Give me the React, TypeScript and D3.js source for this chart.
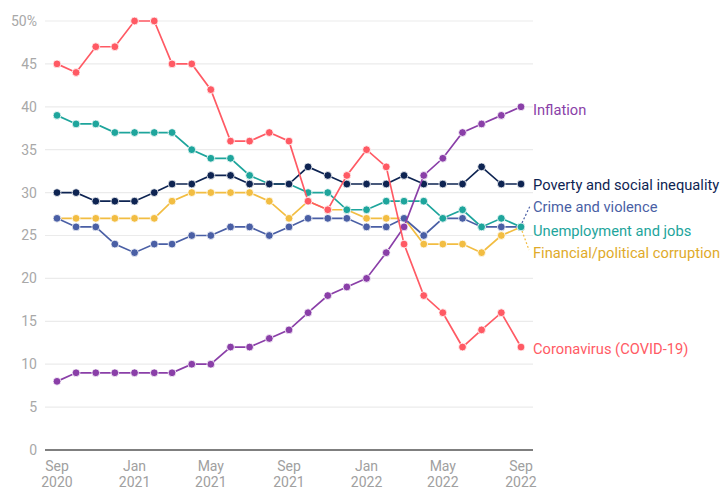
import React from 'react';
import * as d3 from 'd3';

const months = d3.range(25).map((i) => new Date(2020, 8 + i, 1));

const coronavirus = [45, 44, 47, 47, 50, 50, 45, 45, 42, 36, 36, 37, 36, 29, 28, 32, 35, 33, 24, 18, 16, 12, 14, 16, 12];
const inflation = [8, 9, 9, 9, 9, 9, 9, 10, 10, 12, 12, 13, 14, 16, 18, 19, 20, 23, 26, 32, 34, 37, 38, 39, 40];
const poverty = [30, 30, 29, 29, 29, 30, 31, 31, 32, 32, 31, 31, 31, 33, 32, 31, 31, 31, 32, 31, 31, 31, 33, 31, 31];
const unemployment = [39, 38, 38, 37, 37, 37, 37, 35, 34, 34, 32, 31, 31, 30, 30, 28, 28, 29, 29, 29, 27, 28, 26, 27, 26];
const crime = [27, 26, 26, 24, 23, 24, 24, 25, 25, 26, 26, 25, 26, 27, 27, 27, 26, 26, 27, 25, 27, 27, 26, 26, 26];
const corruption = [27, 27, 27, 27, 27, 27, 29, 30, 30, 30, 30, 29, 27, 29, 28, 28, 27, 27, 27, 24, 24, 24, 23, 25, 26];

const yTicks = [0, 5, 10, 15, 20, 25, 30, 35, 40, 45, 50];
const xTickIdx = [0, 4, 8, 12, 16, 20, 24];
const xTickMonth = ['Sep', 'Jan', 'May', 'Sep', 'Jan', 'May', 'Sep'];
const xTickYear = ['2020', '2021', '2021', '2021', '2022', '2022', '2022'];

const series = [
  { name: 'Financial/political corruption', values: corruption, color: '#f2bd42', labelColor: '#e0aa2a', labelY: 253 },
  { name: 'Crime and violence', values: crime, color: '#4a5fa5', labelColor: '#4a5fa5', labelY: 207 },
  { name: 'Unemployment and jobs', values: unemployment, color: '#1ea59c', labelColor: '#1ea59c', labelY: 231 },
  { name: 'Poverty and social inequality', values: poverty, color: '#0e2452', labelColor: '#0e2452', labelY: 185 },
  { name: 'Inflation', values: inflation, color: '#8a3fa8', labelColor: '#8a3fa8', labelY: 110 },
  { name: 'Coronavirus (COVID-19)', values: coronavirus, color: '#ff5a64', labelColor: '#ff5a64', labelY: 349 },
];

export default function App() {
  const width = 722;
  const height = 489;
  const x = d3.scaleTime().domain([months[0], months[24]]).range([57, 521]);
  const y = d3.scaleLinear().domain([0, 50]).range([450, 21]);
  const line = d3.line<number>().x((d, i) => x(months[i])).y((d) => y(d));
  const font = 'Roboto, "Noto Sans", sans-serif';
  const lastX = x(months[24]);

  return (
    <svg width={width} height={height} style={{ position: 'absolute', left: 0, top: 0, background: '#fff' }}>
      {yTicks.map((t) => (
        <g key={t}>
          {t > 0 && <line x1={45} x2={533} y1={y(t)} y2={y(t)} stroke="#ebebeb" strokeWidth={1.2} />}
          <text x={37} y={y(t)} dy="0.35em" textAnchor="end" fontFamily={font} fontSize={14} fill="#a8a8a8">
            {t === 50 ? '50%' : t}
          </text>
        </g>
      ))}
      <line x1={45} x2={533} y1={y(0)} y2={y(0)} stroke="#555" strokeWidth={1.5} />
      {xTickIdx.map((idx, k) => (
        <text key={idx} x={x(months[idx])} y={471} textAnchor="middle" fontFamily={font} fontSize={14} fill="#a0a0a0">
          <tspan x={x(months[idx])}>{xTickMonth[k]}</tspan>
          <tspan x={x(months[idx])} dy={16}>{xTickYear[k]}</tspan>
        </text>
      ))}
      {series.map((s) => (
        <g key={s.name}>
          <path d={line(s.values) ?? ''} fill="none" stroke={s.color} strokeWidth={1.7} />
          {s.values.map((v, i) => (
            <circle key={i} cx={x(months[i])} cy={y(v)} r={3.9} fill={s.color} stroke="#fff" strokeWidth={0.8} />
          ))}
        </g>
      ))}
      <line x1={lastX + 1} y1={y(crime[24]) - 4} x2={lastX + 9} y2={206} stroke="#4a5fa5" strokeWidth={1.2} strokeDasharray="2,2" />
      <line x1={lastX + 1} y1={y(corruption[24]) + 4} x2={lastX + 8} y2={250} stroke="#f2bd42" strokeWidth={1.2} strokeDasharray="2,2" />
      {series.map((s) => (
        <text key={s.name} x={533} y={s.labelY} dy="0.35em" fontFamily={font} fontSize={14.7} fill={s.labelColor}>
          {s.name}
        </text>
      ))}
    </svg>
  );
}
